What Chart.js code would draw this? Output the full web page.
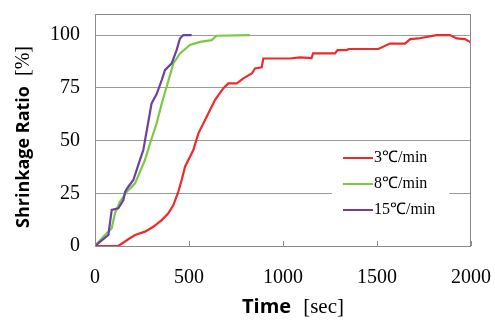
<!DOCTYPE html>
<html>
<head>
<script src="https://cdn.jsdelivr.net/npm/chart.js@4"></script>
<style>
  body { margin: 0; background: #fff; }
</style>
</head>
<body>
<canvas id="chart" width="495" height="322"></canvas>
<script>
// time [sec] and shrinkage ratio [%]
const red_t = [0, 124, 177, 213, 266, 310, 355, 390, 417, 443, 461, 479, 523, 550, 594, 638, 682, 709, 754, 789, 834, 851, 887, 895, 1037, 1090, 1152, 1160, 1277, 1290, 1339, 1350, 1507, 1569, 1649, 1676, 1720, 1817, 1888, 1924, 1968, 2000];
const red_v = [0, 0, 3.2, 5.2, 6.8, 9.1, 12.3, 15.5, 19.4, 25.7, 31.3, 37.6, 45.5, 53.4, 61.3, 69.2, 74.7, 77.1, 77.1, 79.5, 81.8, 84.2, 84.7, 88.9, 88.9, 89.4, 89.1, 91.3, 91.3, 92.9, 92.9, 93.4, 93.4, 96, 96, 98.1, 98.4, 100, 100, 98.4, 98.1, 96.5];

const green_t = [0, 53, 89, 106, 133, 169, 213, 266, 293, 328, 355, 381, 417, 452, 505, 559, 620, 647, 824];
const green_v = [0, 5.2, 8.4, 15.5, 21, 25.7, 29.7, 40.8, 48.7, 58.2, 67.6, 75.5, 86.6, 91.3, 95.3, 96.8, 97.6, 99.7, 100];

const purple_t = [0, 71, 89, 124, 151, 160, 177, 204, 239, 257, 301, 328, 355, 372, 408, 434, 452, 470, 514];
const purple_v = [0, 5.2, 17.1, 17.9, 21.8, 25.7, 28.1, 31.3, 40.8, 45.5, 67.6, 72, 78.7, 83.4, 86.6, 92.9, 98.4, 100, 100];

const seriesNames = ['3\u2103/min', '8\u2103/min', '15\u2103/min'];
const seriesColors = ['#ee2a2a', '#7ac943', '#6a41a0'];

const xTicks = [0, 500, 1000, 1500, 2000];
const yTicks = [0, 25, 50, 75, 100];

function pts(t, v) { return t.map((x, i) => ({ x: x, y: v[i] })); }

const serif = '"Liberation Serif", "Times New Roman", serif';
const sansBold = '"Open Sans", "Noto Sans", sans-serif';

const frame = {
  id: 'frame',
  afterDraw(chart) {
    const ctx = chart.ctx;
    const a = chart.chartArea;
    const xs = chart.scales.x;
    ctx.save();
    // box
    ctx.strokeStyle = '#8a8a8a';
    ctx.lineWidth = 1;
    ctx.strokeRect(a.left + 0.5, a.top + 0.5, a.right - a.left - 1, a.bottom - a.top);
    // inner tick marks on x axis
    xTicks.forEach(t => {
      const px = Math.round(xs.getPixelForValue(t)) + 0.5;
      ctx.beginPath();
      ctx.moveTo(px, a.bottom);
      ctx.lineTo(px, a.bottom - 5);
      ctx.stroke();
    });

    // legend inside plot
    ctx.fillStyle = '#fff';
    ctx.fillRect(332, 145, 117, 76);
    ctx.font = '16px ' + serif;
    ctx.textBaseline = 'middle';
    ctx.textAlign = 'left';
    seriesNames.forEach((n, i) => {
      const y = 158 + i * 26;
      ctx.strokeStyle = seriesColors[i];
      ctx.lineWidth = 2;
      ctx.beginPath();
      ctx.moveTo(343, y);
      ctx.lineTo(373, y);
      ctx.stroke();
      ctx.fillStyle = '#000';
      ctx.fillText(n, 374, y);
    });

    // x axis title
    ctx.textBaseline = 'alphabetic';
    ctx.font = 'bold 20px ' + sansBold;
    const w1 = ctx.measureText('Time').width;
    ctx.font = '21px ' + serif;
    const w2 = ctx.measureText('[sec]').width;
    let x0 = 293 - (w1 + 12 + w2) / 2;
    ctx.font = 'bold 20px ' + sansBold;
    ctx.fillText('Time', x0, 313);
    ctx.font = '21px ' + serif;
    ctx.fillText('[sec]', x0 + w1 + 12, 313);

    // y axis title
    ctx.translate(29, 137);
    ctx.rotate(-Math.PI / 2);
    ctx.font = 'bold 18px ' + sansBold;
    const h1 = ctx.measureText('Shrinkage Ratio').width;
    ctx.font = '20px ' + serif;
    const h2 = ctx.measureText('[%]').width;
    let y0 = -(h1 + 10 + h2) / 2;
    ctx.font = 'bold 18px ' + sansBold;
    ctx.fillText('Shrinkage Ratio', y0, 0);
    ctx.font = '20px ' + serif;
    ctx.fillText('[%]', y0 + h1 + 10, 0);
    ctx.restore();
  }
};

new Chart(document.getElementById('chart'), {
  type: 'line',
  data: {
    datasets: [
      { label: seriesNames[2], data: pts(purple_t, purple_v), borderColor: seriesColors[2], order: 1 },
      { label: seriesNames[1], data: pts(green_t, green_v), borderColor: seriesColors[1], order: 2 },
      { label: seriesNames[0], data: pts(red_t, red_v), borderColor: seriesColors[0], order: 3 }
    ]
  },
  options: {
    responsive: false,
    animation: false,
    devicePixelRatio: 1,
    datasets: { line: { borderWidth: 2.2, pointRadius: 0, tension: 0, fill: false } },
    layout: { padding: { top: 14, right: 24, left: 0, bottom: 0 } },
    plugins: { legend: { display: false }, tooltip: { enabled: false } },
    scales: {
      x: {
        type: 'linear',
        min: 0, max: 2000,
        afterFit: s => { s.height = 76; s.paddingLeft = 0; s.paddingRight = 0; },
        afterBuildTicks: s => { s.ticks = xTicks.map(v => ({ value: v })); },
        grid: { display: false },
        border: { display: false },
        ticks: { color: '#000', font: { family: serif, size: 20 }, padding: 12, maxRotation: 0,
                 callback: v => String(v) }
      },
      y: {
        min: 0, max: 110,
        afterFit: s => { s.width = 95; s.paddingTop = 0; s.paddingBottom = 0; },
        afterBuildTicks: s => { s.ticks = yTicks.map(v => ({ value: v })); },
        grid: { color: '#9a9a9a', drawTicks: false },
        border: { display: false },
        ticks: { color: '#000', font: { family: serif, size: 20 }, padding: 15,
                 callback: v => String(v) }
      }
    }
  },
  plugins: [frame]
});
</script>
</body>
</html>
